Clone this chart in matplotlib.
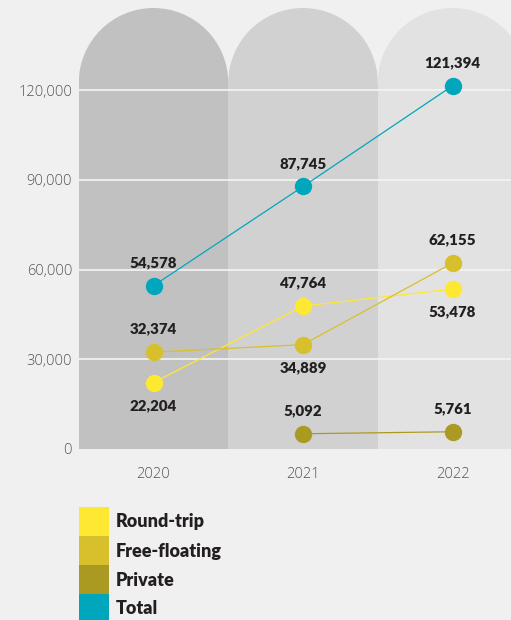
import matplotlib.pyplot as plt
from matplotlib.patches import Rectangle, Ellipse
import numpy as np

years = ['2020', '2021', '2022']
round_trip = [22204, 47764, 53478]
free_floating = [32374, 34889, 62155]
private = [np.nan, 5092, 5761]
total = [54578, 87745, 121394]

series = [
    ('Round-trip', round_trip, '#ffe832', ['below', 'above', 'below']),
    ('Free-floating', free_floating, '#d8bf2c', ['above', 'below', 'above']),
    ('Private', private, '#ab9a22', ['above', 'above', 'above']),
    ('Total', total, '#00a7bc', ['above', 'above', 'above']),
]
column_colors = ['#c1c1c1', '#d1d1d1', '#e2e2e2']
bg = '#f0f0f0'

W, H = 511, 620
fig = plt.figure(figsize=(W / 100, H / 100), dpi=100, facecolor=bg)
ax_left, ax_bottom = 79, 449
ax = fig.add_axes([ax_left / W, 1 - ax_bottom / H, (W - ax_left) / W, ax_bottom / H])
ax.set_facecolor(bg)

# pixel scales
px_per_x = 149.5
val_per_px = 30000 / 89.75
ax.set_xlim(-74.5 / px_per_x, (W - ax_left - 74.5) / px_per_x)
ax.set_ylim(0, ax_bottom * val_per_px)

# arched columns
arch_top = (ax_bottom - 8) * val_per_px
arch_ry = 74.75 * val_per_px
for i, c in enumerate(column_colors):
    ax.add_patch(Rectangle((i - 0.5, 0), 1, arch_top - arch_ry, facecolor=c,
                           edgecolor='none', zorder=0))
    ax.add_patch(Ellipse((i, arch_top - arch_ry), 1, 2 * arch_ry, facecolor=c,
                         edgecolor='none', zorder=0))

yticks = [0, 30000, 60000, 90000, 120000]
for yv in yticks[1:]:
    ax.axhline(yv, color='#f4f4f4', lw=1.2, zorder=1)

x = np.arange(len(years))
label_font = dict(family=['Lato', 'DejaVu Sans'], fontweight='heavy', fontsize=10.8,
                  color='#231f20')
for name, vals, col, pos in series:
    ax.plot(x, vals, color=col, lw=0.9, marker='o', markersize=12.5,
            markeredgewidth=0, zorder=3)
    for xi, v, p in zip(x, vals, pos):
        if np.isnan(v):
            continue
        off = 23 if p == 'above' else -23
        ax.annotate(f'{v:,.0f}', (xi, v), xytext=(0, off), textcoords='offset pixels',
                    ha='center', va='center', zorder=4, **label_font)

ax.set_yticks(yticks)
ax.set_yticklabels([f'{v:,}' for v in yticks])
ax.set_xticks(x)
ax.set_xticklabels(years)
ax.tick_params(length=0, labelsize=10.5, labelcolor='#555555')
for lbl in ax.get_xticklabels() + ax.get_yticklabels():
    lbl.set_family(['Open Sans', 'DejaVu Sans'])
    lbl.set_fontweight('light')
ax.tick_params(axis='y', pad=5)
ax.tick_params(axis='x', pad=13)
for s in ax.spines.values():
    s.set_visible(False)

# legend block
for k, (name, vals, col, pos) in enumerate(series):
    top = 507 + 29 * k
    fig.patches.append(Rectangle((79 / W, 1 - (top + 29) / H), 30 / W, 29 / H,
                                 transform=fig.transFigure, facecolor=col,
                                 edgecolor='none'))
    fig.text(116 / W, 1 - (top + 15) / H, name, ha='left', va='center',
             family=['Lato', 'DejaVu Sans'], fontweight='heavy', fontsize=13,
             color='#231f20')

fig.savefig('out.png', dpi=100, facecolor=bg)
